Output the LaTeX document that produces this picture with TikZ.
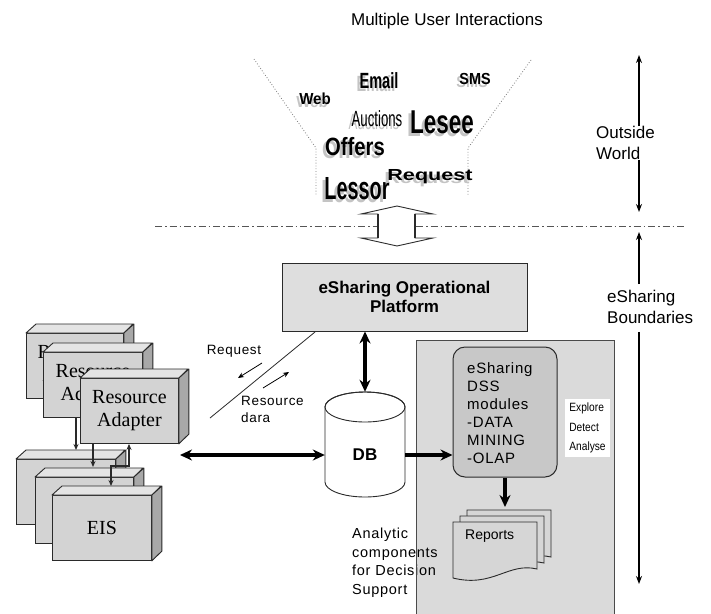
\documentclass[tikz,border=0pt]{standalone}
\usepackage{fontspec}
\usepackage{graphicx}
\setmainfont{Liberation Sans}
\newfontfamily\timesfont{Liberation Serif}
\newfontfamily\spacedfont[LetterSpace=5]{Liberation Sans}
\usetikzlibrary{arrows.meta}
\definecolor{edge}{HTML}{2A2A2A}
\definecolor{boxfront}{HTML}{D3D3D3}
\definecolor{boxtop}{HTML}{E4E4E4}
\definecolor{boxside}{HTML}{A8A8A8}
\definecolor{platfill}{HTML}{DEDEDE}
\definecolor{panelfill}{HTML}{DADADA}
\definecolor{dssfill}{HTML}{C8C8C8}
\definecolor{docfill}{HTML}{D6D6D6}
\definecolor{shadowgray}{HTML}{C4C4C4}
\definecolor{funnelline}{HTML}{7A7A7A}
\newcommand\fw[3]{\fontsize{#1}{#1}\selectfont\scalebox{#2}[1]{#3}}
\newcommand\funnelword[6]{%
  \node[text=shadowgray, inner sep=0pt] at (#2-3,#3+3) {\fw{#4}{#5}{#6}};
  \node[inner sep=0pt] (#1) at (#2,#3) {\fw{#4}{#5}{#6}};}
\newcommand\cubebox[5]{%
  \node[draw=edge, fill=boxfront, line width=0.9pt, minimum width=#4pt, minimum height=#5pt, anchor=north west, inner sep=0pt] (#1) at (#2,#3) {};
  \draw[draw=edge, fill=boxtop, line width=0.9pt, line join=round] (#1.north west) -- ++(10,-9) -- ++(#4,0) -- (#1.north east) -- cycle;
  \draw[draw=edge, fill=boxside, line width=0.9pt, line join=round] (#1.north east) -- ++(10,-9) -- ++(0,#5) -- (#1.south east) -- cycle;}
\newcommand\docpage[2]{%
  \draw[draw=edge, fill=docfill, line width=0.9pt] (#1,#2) -- (#1+84,#2) -- (#1+84,#2+47) .. controls (#1+55,#2+40) and (#1+40,#2+66) .. (#1,#2+56) -- cycle;}
\tikzset{
  thickarr/.style={line width=3.6pt, -{Stealth[length=12pt,width=11pt]}},
  thickdbl/.style={line width=3.6pt, {Stealth[length=12pt,width=11pt]}-{Stealth[length=12pt,width=11pt]}},
  thinarr/.style={line width=0.8pt, -{Stealth[length=6pt,width=5pt]}},
  sidearr/.style={line width=1.1pt, -{Stealth[length=8pt,width=6pt]}},
  smallarr/.style={line width=1.1pt, draw=edge, -{Stealth[length=6pt,width=5pt]}},
  funnel/.style={draw=funnelline, dotted, line width=0.8pt},
  label/.style={inner sep=0pt, align=left},
}
\begin{document}
\begin{tikzpicture}[x=1pt,y=-1pt]
\useasboundingbox[fill=white] (0,0) rectangle (711,613);

% title
\node[inner sep=0pt, font=\fontsize{17}{20}\selectfont] (title) at (447,21) {Multiple User Interactions};

% funnel
\draw[funnel] (254,59) -- (316,148) -- (316,196);
\draw[funnel] (531,60) -- (468,148) -- (468,196);

\funnelword{web}{315}{99}{16}{0.94}{\bfseries Web}
\funnelword{email}{379}{81}{22}{0.66}{\bfseries Email}
\funnelword{sms}{475}{79}{16}{0.9}{\bfseries SMS}
\funnelword{auct}{377}{119}{22}{0.6}{Auctions}
\funnelword{lesee}{442}{122}{33}{0.68}{\bfseries Lesee}
\funnelword{offers}{355}{147}{25}{0.81}{\bfseries Offers}
\funnelword{lessor}{357}{189}{32}{0.62}{\bfseries Lessor}
\funnelword{req}{430}{177}{16}{1.35}{\bfseries Request}

% boundary line
\draw[draw=edge!80, line width=1pt, dash pattern=on 7pt off 3pt on 1.5pt off 3pt] (155,226) -- (684,226);

% hollow double arrow
\draw[draw=edge, fill=white, line width=0.9pt, line join=miter]
  (361,214) -- (397,206) -- (433,214) -- (415,214) -- (415,238) -- (433,238)
  -- (397,246) -- (361,238) -- (378,238) -- (378,214) -- cycle;
\draw[draw=edge, line width=2pt] (378,214) -- (378,238) (415,214) -- (415,238);

% right side scale
\node[label, anchor=north west, font=\fontsize{17}{21}\selectfont] (ow) at (596,126) {Outside\\World};
\coordinate (owtop) at (639,55);
\coordinate (owbot) at (639,212);
\draw[sidearr] (ow.north -| owtop) -- (owtop);
\draw[sidearr] (ow.south -| owbot) -- (owbot);
\node[label, anchor=north west, font=\fontsize{17}{21}\selectfont] (eb) at (607,290) {eSharing\\Boundaries};
\coordinate (ebtop) at (639,232);
\coordinate (ebbot) at (639,584);
\draw[sidearr] ([yshift=6pt]eb.north -| ebtop) -- (ebtop);
\draw[sidearr] ([yshift=-8pt]eb.south -| ebbot) -- (ebbot);

% platform
\node[draw=edge, fill=platfill, line width=0.9pt, minimum width=245pt, minimum height=68pt, align=center,
      font=\bfseries\fontsize{17}{19}\selectfont] (plat) at (404.5,297) {eSharing Operational\\Platform};

% request / resource data
\coordinate (diagA) at (315,332);
\coordinate (diagB) at (210,418);
\draw[line width=0.8pt, draw=edge] (diagA) -- (diagB);
\node[label, font=\spacedfont\fontsize{13.5}{17}\selectfont] (reqlbl) at (234,351) {Request};
\coordinate (r1a) at (262,363); \coordinate (r1b) at (238,378);
\draw[thinarr] (r1a) -- (r1b);
\coordinate (r2a) at (263,388); \coordinate (r2b) at (289,372);
\draw[thinarr] (r2a) -- (r2b);
\node[label, anchor=north west, font=\spacedfont\fontsize{13.5}{17}\selectfont] (resdata) at (241,396) {Resource\\dara};

% right panel
\fill[panelfill] (416,340) rectangle (614,620);
\node[label, anchor=north west, font=\spacedfont\fontsize{14.5}{18.5}\selectfont] (analytic) at (352,528) {Analytic\\components\\for Decision\\Support};
\draw[draw=edge!85, line width=1pt] (416,620) -- (416,340) -- (614,340) -- (614,620);

% DSS
\node[draw=edge, fill=dssfill, line width=1pt, rounded corners=12pt, minimum width=104pt, minimum height=130pt] (dss) at (505,412) {};
\node[label, anchor=north west, font=\spacedfont\fontsize{15}{18}\selectfont] (dsstxt) at (467,362) {eSharing\\DSS\\modules\\-DATA\\MINING\\-OLAP};
\node[fill=white, inner sep=2pt, minimum width=45pt, minimum height=58pt, align=left,
      font=\fontsize{12}{19.5}\selectfont] (eda) at (587.5,428) {\scalebox{0.85}[1]{Explore}\\\scalebox{0.85}[1]{Detect}\\\scalebox{0.85}[1]{Analyse}};

% reports
\docpage{467}{510}
\docpage{460}{516}
\docpage{453}{522}
\node[inner sep=0pt, anchor=west, font=\fontsize{14}{16}\selectfont] (reports) at (465,536) {Reports};
\coordinate (reptop) at (505,507);
\draw[thickarr] (dss.south) -- (reptop);

% DB cylinder
\draw[draw=edge, fill=white, line width=0.9pt] (325,407) -- (325,482)
  arc[start angle=180, end angle=0, x radius=40, y radius=15] -- (405,407)
  arc[start angle=0, end angle=-180, x radius=40, y radius=15] -- cycle;
\draw[draw=edge, line width=0.9pt] (365,407) ellipse[x radius=40, y radius=15];
\node[minimum width=80pt, minimum height=126pt, inner sep=0pt, font=\bfseries\fontsize{17}{19}\selectfont] (db) at (365,455) {DB};

\draw[thickdbl] (plat.south -| db.north) -- (db.north);
\draw[thickarr] (db.east) -- (dss.west |- db.east);
\coordinate (leftend) at (180,455);
\draw[thickdbl] (leftend) -- (db.west);

% resource adapters
\cubebox{ra1}{26}{333}{97}{65}
\node[font=\timesfont\fontsize{20}{23}\selectfont, align=center] at (ra1.center) {Resource\\Adapter};
\cubebox{ra2}{43}{352}{99}{65}
\node[font=\timesfont\fontsize{20}{23}\selectfont, align=center] at (ra2.center) {Resource\\Adapter};
\cubebox{ra3}{80}{378}{98}{65}
\node[font=\timesfont\fontsize{20}{23}\selectfont, align=center] (ratxt) at (ra3.center) {Resource\\Adapter};

% EIS
\cubebox{eisA}{16}{459}{99}{65}
\cubebox{eisB}{35}{477}{98}{66}
\cubebox{eisC}{52}{495}{99}{65}
\node[font=\timesfont\fontsize{20}{23}\selectfont] (eistxt) at (eisC.center) {EIS};

% small connectors
\coordinate (k1) at (76,450);
\draw[smallarr] (ra2.south -| k1) -- (k1);
\coordinate (k2) at (93,467);
\draw[smallarr] (ra3.south -| k2) -- (k2);
\coordinate (k3) at (111,486);
\coordinate (jA) at (111,466);
\coordinate (jB) at (129,466);
\draw[smallarr, {Stealth[length=6pt,width=5pt]}-{Stealth[length=6pt,width=5pt]}] (k3) -- (jA) -- (jB) -- (ra3.south -| jB);

\end{tikzpicture}
\end{document}
